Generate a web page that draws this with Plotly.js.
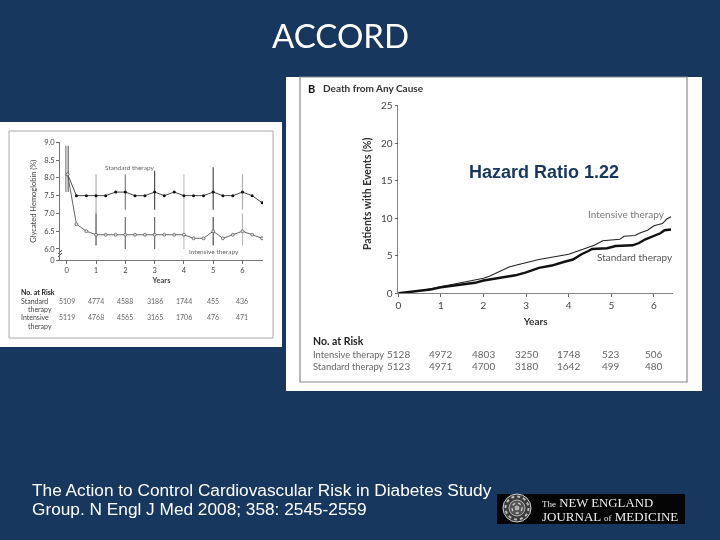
<!DOCTYPE html>
<html><head><meta charset="utf-8">
<script src="https://cdn.plot.ly/plotly-3.0.1.min.js"></script>
<style>html,body{margin:0;padding:0;background:#17375e}#c{width:720px;height:540px}</style>
</head><body><div id="c"></div>
<script>
// Left panel: glycated hemoglobin
const a1cYears = [0.03,0.33,0.67,1,1.33,1.67,2,2.33,2.67,3,3.33,3.67,4,4.33,4.67,5,5.33,5.67,6,6.33,6.67];
const a1cStandard = [8.1,7.5,7.5,7.5,7.5,7.6,7.6,7.5,7.5,7.6,7.5,7.6,7.5,7.5,7.5,7.6,7.5,7.5,7.6,7.5,7.3];
const a1cIntensive = [8.1,6.7,6.5,6.4,6.4,6.4,6.4,6.4,6.4,6.4,6.4,6.4,6.4,6.3,6.3,6.5,6.3,6.4,6.5,6.4,6.3];
const riskYears = [0,1,2,3,4,5,6];
const stdBarYears = [0.05,1,2,3,4,5,6];
const intBarYears = [-0.03,1,2,3,4,5,6];
const stdLow = [7.6,7.0,7.1,7.1,7.0,7.1,7.1];
const stdHigh = [8.9,8.1,8.1,8.2,8.1,8.3,8.1];
const intLow = [7.6,6.1,6.0,6.0,6.0,6.1,6.1];
const intHigh = [8.9,7.0,6.9,6.9,7.0,6.9,7.0];
const stdShades = ['#666666','#b0b0b0','#808080','#505050','#c0c0c0','#505050','#b0b0b0'];
const intShades = ['#808080','#505050','#707070','#707070','#c0c0c0','#505050','#b8b8b8'];
const riskLeftStd = ['5109','4774','4588','3186','1744','455','436'];
const riskLeftInt = ['5119','4768','4565','3165','1706','476','471'];
// Right panel: death from any cause
const deathYearsInt = [0,0.25,0.5,0.75,1,1.25,1.5,1.75,2,2.15,2.3,2.45,2.6,2.8,3,3.15,3.3,3.6,3.85,4,4.15,4.3,4.45,4.6,4.8,5.2,5.3,5.55,5.7,5.85,6,6.2,6.3,6.4];
const deathInt = [0,0.15,0.3,0.6,0.9,1.2,1.5,1.8,2.0,2.3,2.7,3.1,3.5,3.8,4.1,4.3,4.5,4.8,5.0,5.2,5.5,5.8,6.1,6.4,7.0,7.2,7.6,7.7,8.1,8.4,9.0,9.3,9.9,10.2];
const deathYearsStd = [0,0.25,0.5,0.75,1,1.25,1.5,1.8,2,2.25,2.5,2.75,3,3.15,3.3,3.6,3.75,3.9,4.1,4.2,4.3,4.45,4.55,4.9,5.1,5.5,5.65,5.8,6.05,6.15,6.25,6.4];
const deathStd = [0,0.15,0.3,0.5,0.8,1.0,1.2,1.4,1.7,1.9,2.2,2.4,2.8,3.1,3.4,3.7,3.9,4.2,4.5,4.9,5.2,5.6,5.9,6.0,6.3,6.4,6.7,7.2,7.7,8.0,8.4,8.5];
const riskRightInt = ['5128','4972','4803','3250','1748','523','506'];
const riskRightStd = ['5123','4971','4700','3180','1642','499','480'];

const navy = '#17375e', font = 'Lato, sans-serif', arial = 'Liberation Sans, Arial, sans-serif', serif = 'Liberation Serif, serif';
const W = 720, H = 540;
const px = v => v / W, py = v => 1 - v / H;

function barTraces(years, low, high, shades) {
  return years.map((t, i) => ({x: [t, t], y: [low[i], high[i]], xaxis: 'x', yaxis: 'y', mode: 'lines', showlegend: false,
    hoverinfo: 'skip', line: {color: shades[i], width: 1.2}}));
}
const traces = [
  ...barTraces(stdBarYears, stdLow, stdHigh, stdShades),
  ...barTraces(intBarYears, intLow, intHigh, intShades),
  {x: a1cYears, y: a1cStandard, xaxis: 'x', yaxis: 'y', mode: 'lines+markers', name: 'Standard therapy', showlegend: false,
   line: {color: '#333', width: 0.9}, marker: {color: '#111', size: 3, symbol: 'circle'}},
  {x: a1cYears, y: a1cIntensive, xaxis: 'x', yaxis: 'y', mode: 'lines+markers', name: 'Intensive therapy', showlegend: false,
   line: {color: '#555', width: 0.9}, marker: {color: '#ddd', size: 3, symbol: 'circle', line: {color: '#555', width: 0.7}}},
  {x: deathYearsInt, y: deathInt, xaxis: 'x2', yaxis: 'y2', mode: 'lines', name: 'Intensive therapy', showlegend: false,
   line: {color: '#222', width: 1.1}},
  {x: deathYearsStd, y: deathStd, xaxis: 'x2', yaxis: 'y2', mode: 'lines', name: 'Standard therapy', showlegend: false,
   line: {color: '#111', width: 2.4}}
];

function note(text, x, y, size, opts) {
  return Object.assign({text, x: px(x), y: py(y), xref: 'paper', yref: 'paper', showarrow: false, borderpad: 0,
    xanchor: 'left', yanchor: 'middle', font: {family: font, size, color: '#444'}}, opts || {});
}
function dataRow(values, y, xaxis, size, color) {
  return values.map((v, i) => ({text: v, x: riskYears[i], y: py(y), xref: xaxis, yref: 'paper', showarrow: false, borderpad: 0,
    xanchor: 'center', yanchor: 'middle', font: {family: font, size, color}}));
}
const annotations = [
  note('ACCORD', 340.5, 34.5, 33, {xanchor: 'center', font: {family: 'Lato, sans-serif', size: 33, color: '#ffffff'}}),
  note('<b>Hazard Ratio 1.22</b>', 544, 172, 18, {xanchor: 'center', font: {family: arial, size: 18, color: navy}}),
  note('The Action to Control Cardiovascular Risk in Diabetes Study', 30.5, 489.5, 17.25, {font: {family: arial, size: 17.25, color: '#ffffff'}}),
  note('Group. N Engl J Med 2008; 358: 2545-2559', 30.5, 508.5, 17.25, {font: {family: arial, size: 17.25, color: '#ffffff'}}),
  // left panel labels
  note('Standard therapy', 129, 167, 6.5, {xanchor: 'center', font: {family: font, size: 6.5, color: '#666'}}),
  note('Intensive therapy', 214, 251, 6.5, {xanchor: 'center', font: {family: font, size: 6.5, color: '#666'}}),
  note('<b>No. at Risk</b>', 20, 292, 7, {font: {family: font, size: 7, color: '#222'}}),
  note('Standard', 20, 301, 7),
  note('therapy', 27, 309, 7),
  note('Intensive', 20, 317, 7),
  note('therapy', 27, 326, 7),
  ...dataRow(riskLeftStd, 301, 'x', 7, '#666'),
  ...dataRow(riskLeftInt, 317, 'x', 7, '#666'),
  // right panel labels
  note('<b>B</b>', 307, 88, 11, {font: {family: font, size: 11, color: '#111'}}),
  note('<b>Death from Any Cause</b>', 322, 88.5, 10, {font: {family: font, size: 10, color: '#333'}}),
  note('<b>Patients with Events (%)</b>', 367, 194, 10.5, {xanchor: 'center', textangle: -90, font: {family: font, size: 10.5, color: '#333'}}),
  note('Intensive therapy', 626, 214, 10, {xanchor: 'center', font: {family: font, size: 10, color: '#777'}}),
  note('Standard therapy', 634.5, 257, 10, {xanchor: 'center', font: {family: font, size: 10, color: '#555'}}),
  note('<b>No. at Risk</b>', 312, 341, 10.5, {font: {family: font, size: 10.5, color: '#222'}}),
  note('Intensive therapy', 312, 354, 9.4, {font: {family: font, size: 9.4, color: '#666'}}),
  note('Standard therapy', 312, 366, 9.4, {font: {family: font, size: 9.4, color: '#666'}}),
  ...dataRow(riskRightInt, 354, 'x2', 10, '#666'),
  ...dataRow(riskRightStd, 366, 'x2', 10, '#666'),
  // journal logo
  note('<span style="font-size:9px">The</span> NEW ENGLAND', 541, 503, 12.8, {font: {family: serif, size: 12.8, color: '#eeeeee'}}),
  note('JOURNAL <span style="font-size:9px">of</span> MEDICINE', 541, 516, 13, {font: {family: serif, size: 13, color: '#eeeeee'}})
];
const blurFrom = 4;
function rect(x0, y0, x1, y1, fill, line, lw) {
  return {type: 'rect', xref: 'paper', yref: 'paper', x0: px(x0), x1: px(x1), y0: py(y0), y1: py(y1),
    fillcolor: fill || 'rgba(0,0,0,0)', line: {color: line || 'rgba(0,0,0,0)', width: lw || 0}, layer: 'below'};
}
function circle(cx, cy, r, fill, line, lw, dash) {
  return {type: 'circle', xref: 'paper', yref: 'paper', x0: px(cx - r), x1: px(cx + r), y0: py(cy + r), y1: py(cy - r),
    fillcolor: fill, line: {color: line, width: lw, dash: dash || 'solid'}, layer: 'below'};
}
const shapes = [
  rect(0, 122, 282, 347, '#ffffff'),
  rect(9, 131, 273, 338, '#ffffff', '#a8a8a8', 1),
  rect(286, 77, 702, 391, '#ffffff'),
  rect(300, 77, 687, 382, '#ffffff', '#8a8a8a', 1.2),
  rect(497, 494, 685, 524, '#050505'),
  circle(517, 508, 14, '#3a3a3a', '#d0d0d0', 1),
  circle(517, 508, 11.5, 'rgba(0,0,0,0)', '#bbbbbb', 2, 'dot'),
  circle(517, 508, 8, '#555555', '#c8c8c8', 0.8),
  circle(517, 508, 5, 'rgba(0,0,0,0)', '#cccccc', 1.4, 'dot'),
  circle(517, 508, 2, '#aaaaaa', '#dddddd', 0.6),
  // axis break on the left chart
  {type: 'line', xref: 'paper', yref: 'paper', x0: px(58), x1: px(62), y0: py(254), y1: py(250), line: {color: '#555', width: 1}},
  {type: 'line', xref: 'paper', yref: 'paper', x0: px(58), x1: px(62), y0: py(257), y1: py(253), line: {color: '#555', width: 1}}
];
const axisCommon = {showgrid: false, zeroline: false, showline: true, ticks: 'outside', fixedrange: true};
const layout = {
  width: W, height: H, margin: {l: 0, r: 0, t: 0, b: 0}, paper_bgcolor: navy, plot_bgcolor: 'rgba(0,0,0,0)',
  showlegend: false, annotations, shapes,
  xaxis: Object.assign({}, axisCommon, {anchor: 'y', domain: [px(60), px(263)], range: [-0.23, 6.7], tickvals: riskYears,
    ticklen: 3, tickwidth: 0.8, linecolor: '#555', linewidth: 0.8, tickfont: {family: font, size: 7.5, color: '#444'},
    title: {text: '<b>Years</b>', font: {family: font, size: 7.5, color: '#444'}, standoff: 3}}),
  yaxis: Object.assign({}, axisCommon, {anchor: 'x', domain: [py(260), py(142.3)], range: [5.69, 9.0],
    tickvals: [5.69,6,6.5,7,7.5,8,8.5,9], ticktext: ['0','6.0','6.5','7.0','7.5','8.0','8.5','9.0'],
    ticklen: 3, tickwidth: 0.8, linecolor: '#555', linewidth: 0.8, tickfont: {family: font, size: 7.5, color: '#444'},
    title: {text: 'Glycated Hemoglobin (%)', font: {family: font, size: 7.5, color: '#444'}, standoff: 6}}),
  xaxis2: Object.assign({}, axisCommon, {anchor: 'y2', domain: [px(398.3), px(673)], range: [0, 6.447], tickvals: riskYears,
    ticklen: 3, tickwidth: 0.8, linecolor: '#666', linewidth: 0.8, tickfont: {family: font, size: 10, color: '#444'},
    title: {text: '<b>Years</b>', font: {family: font, size: 10, color: '#333'}, standoff: 7}}),
  yaxis2: Object.assign({}, axisCommon, {anchor: 'x2', domain: [py(293.3), py(105.7)], range: [0, 25], tickvals: [0,5,10,15,20,25],
    ticklen: 3, tickwidth: 0.8, linecolor: '#666', linewidth: 0.8, tickfont: {family: font, size: 10, color: '#444'}})
};
Plotly.newPlot('c', traces, layout, {displayModeBar: false, staticPlot: true}).then(() => {
  const soft = 'blur(0.35px)';
  const g = document.querySelector('#c .cartesianlayer');
  if (g) g.style.filter = soft;
  document.querySelectorAll('#c .annotation').forEach((a, i) => { if (i >= blurFrom) a.style.filter = soft; });
  document.querySelectorAll('#c .g-xtitle, #c .g-ytitle, #c .g-x2title').forEach(a => { a.style.filter = soft; });
});
</script></body></html>
